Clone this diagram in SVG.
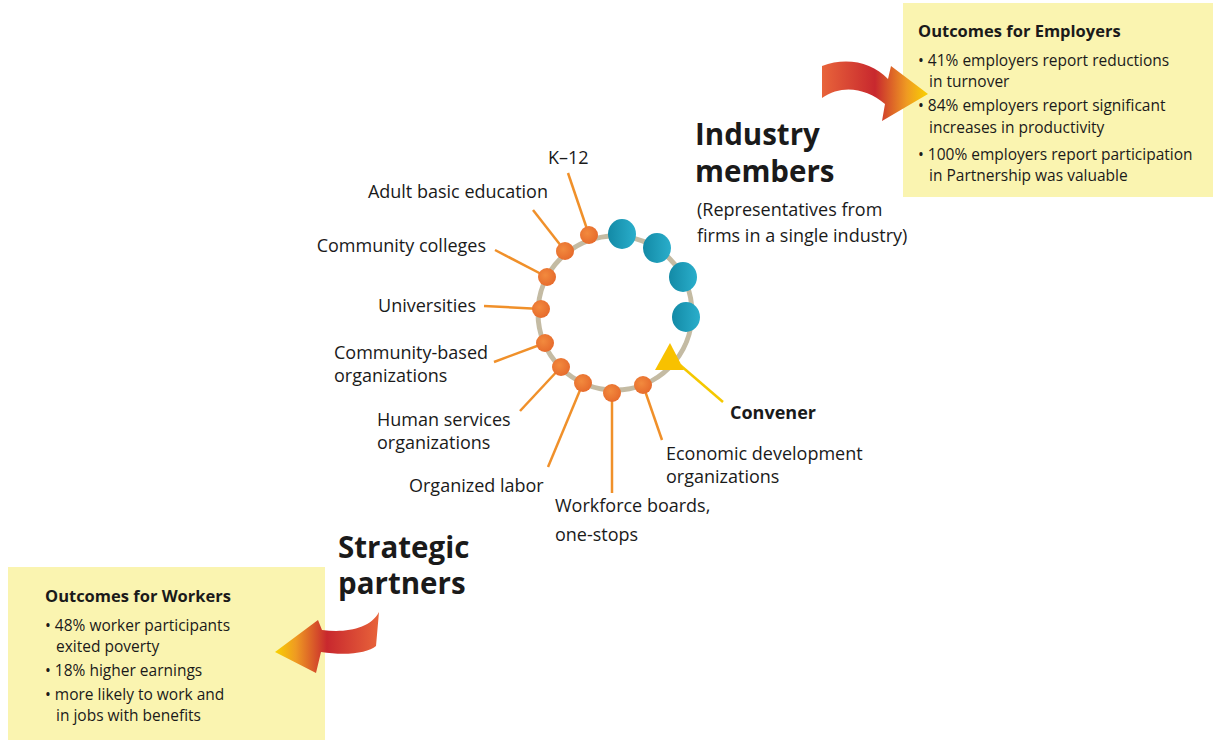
<svg xmlns="http://www.w3.org/2000/svg" width="1213" height="740" viewBox="0 0 1213 740">
<style>
text{font-family:"Open Sans","Noto Sans","Liberation Sans",sans-serif;fill:#1a1a1a}
.lbl{font-size:18px}
.big{font-size:29.5px;font-weight:bold}
.bt{font-size:15.5px}
.bh{font-size:16.5px;font-weight:bold}
.conv{font-size:18px;font-weight:bold}
.spoke{stroke:#f0902a;stroke-width:2.5;fill:none}
.on{fill:url(#og)}
.tn{fill:url(#tg)}
.box{fill:#faf4b0}
</style>
<defs>
<radialGradient id="og" cx="0.4" cy="0.4" r="0.7"><stop offset="0" stop-color="#f28a3e"/><stop offset="1" stop-color="#e5672a"/></radialGradient>
<linearGradient id="tg" x1="0" y1="0" x2="1" y2="0"><stop offset="0" stop-color="#138aa6"/><stop offset="1" stop-color="#2aaecb"/></linearGradient>
<linearGradient id="arr1" x1="0" y1="0" x2="1" y2="0"><stop offset="0" stop-color="#e8643a"/><stop offset="0.5" stop-color="#c8282e"/><stop offset="0.8" stop-color="#ef9a22"/><stop offset="1" stop-color="#f9d200"/></linearGradient>
<linearGradient id="arr2" x1="1" y1="0" x2="0" y2="0"><stop offset="0" stop-color="#e8643a"/><stop offset="0.5" stop-color="#c8282e"/><stop offset="0.8" stop-color="#ef9a22"/><stop offset="1" stop-color="#f9d200"/></linearGradient>
</defs>
<rect width="1213" height="740" fill="#ffffff"/>

<g id="employers-box">
<rect class="box" x="903" y="3" width="310" height="194"/>
<text class="bh" x="918" y="37">Outcomes for Employers</text>
<text class="bt" x="918" y="66">• 41% employers report reductions</text>
<text class="bt" x="929" y="87">in turnover</text>
<text class="bt" x="918" y="111">• 84% employers report significant</text>
<text class="bt" x="929" y="133">increases in productivity</text>
<text class="bt" x="918" y="160">• 100% employers report participation</text>
<text class="bt" x="929" y="181">in Partnership was valuable</text>
</g>

<g id="workers-box">
<rect class="box" x="8" y="567" width="317" height="173"/>
<text class="bh" x="45" y="602">Outcomes for Workers</text>
<text class="bt" x="45" y="631">• 48% worker participants</text>
<text class="bt" x="56" y="652">exited poverty</text>
<text class="bt" x="45" y="676">• 18% higher earnings</text>
<text class="bt" x="45" y="700">• more likely to work and</text>
<text class="bt" x="56" y="721">in jobs with benefits</text>
</g>

<g id="arrow-employers">
<path d="M822,66 C846,57 872,62 888,79 L891,66 L928,94 L882,121 L885,104 C866,88 842,84 822,98 Z" fill="url(#arr1)"/>
</g>
<g id="arrow-workers">
<path d="M379,612 C370,629 346,633 322,630 L318,620 L275,652 L316,673 L321,652 C346,656 368,653 376,646 Z" fill="url(#arr2)"/>
</g>

<g id="headings">
<text class="big" x="695" y="145">Industry</text>
<text class="big" x="695" y="182">members</text>
<text class="lbl" x="697" y="216">(Representatives from</text>
<text class="lbl" x="697" y="242"> firms in a single industry)</text>
<text class="big" x="338" y="558">Strategic</text>
<text class="big" x="338" y="594">partners</text>
</g>

<g id="connectors">
<line class="spoke" x1="589" y1="235" x2="568" y2="173"/>
<line class="spoke" x1="565" y1="251" x2="533" y2="210"/>
<line class="spoke" x1="547" y1="277" x2="495" y2="250"/>
<line class="spoke" x1="541" y1="309" x2="484" y2="306"/>
<line class="spoke" x1="545" y1="343" x2="494" y2="362"/>
<line class="spoke" x1="561" y1="367" x2="520" y2="411"/>
<line class="spoke" x1="583" y1="383" x2="548" y2="467"/>
<line class="spoke" x1="612" y1="393" x2="612" y2="493"/>
<line class="spoke" x1="643" y1="385" x2="662" y2="440"/>
<line x1="680" y1="365" x2="723" y2="402" stroke="#f5c800" stroke-width="2.5"/>
</g>

<g id="ring">
<circle cx="615" cy="313" r="77" fill="none" stroke="#c4bba3" stroke-width="5"/>
</g>

<g id="node-k12"><circle class="on" cx="589" cy="235" r="9"/><text class="lbl" x="548" y="164">K–12</text></g>
<g id="node-adult"><circle class="on" cx="565" cy="251" r="9"/><text class="lbl" x="548" y="198" text-anchor="end">Adult basic education</text></g>
<g id="node-cc"><circle class="on" cx="547" cy="277" r="9"/><text class="lbl" x="486" y="252" text-anchor="end">Community colleges</text></g>
<g id="node-univ"><circle class="on" cx="541" cy="309" r="9"/><text class="lbl" x="476" y="312" text-anchor="end">Universities</text></g>
<g id="node-cbo"><circle class="on" cx="545" cy="343" r="9"/><text class="lbl" x="334" y="359">Community-based</text><text class="lbl" x="334" y="382">organizations</text></g>
<g id="node-hs"><circle class="on" cx="561" cy="367" r="9"/><text class="lbl" x="377" y="426">Human services</text><text class="lbl" x="377" y="449">organizations</text></g>
<g id="node-labor"><circle class="on" cx="583" cy="383" r="9"/><text class="lbl" x="409" y="492">Organized labor</text></g>
<g id="node-wf"><circle class="on" cx="612" cy="393" r="9"/><text class="lbl" x="555" y="512">Workforce boards,</text><text class="lbl" x="555" y="541">one-stops</text></g>
<g id="node-econ"><circle class="on" cx="643" cy="385" r="9"/><text class="lbl" x="666" y="460">Economic development</text><text class="lbl" x="666" y="483">organizations</text></g>

<g id="industry-1"><ellipse class="tn" cx="622" cy="234" rx="14" ry="15"/></g>
<g id="industry-2"><ellipse class="tn" cx="657" cy="248" rx="14" ry="15"/></g>
<g id="industry-3"><ellipse class="tn" cx="683" cy="277" rx="14" ry="15"/></g>
<g id="industry-4"><ellipse class="tn" cx="686" cy="317" rx="14" ry="15"/></g>

<g id="convener">
<polygon points="670,343 655,370 684,370" fill="#f8c100"/>
<text class="conv" x="730" y="419">Convener</text>
</g>
</svg>
